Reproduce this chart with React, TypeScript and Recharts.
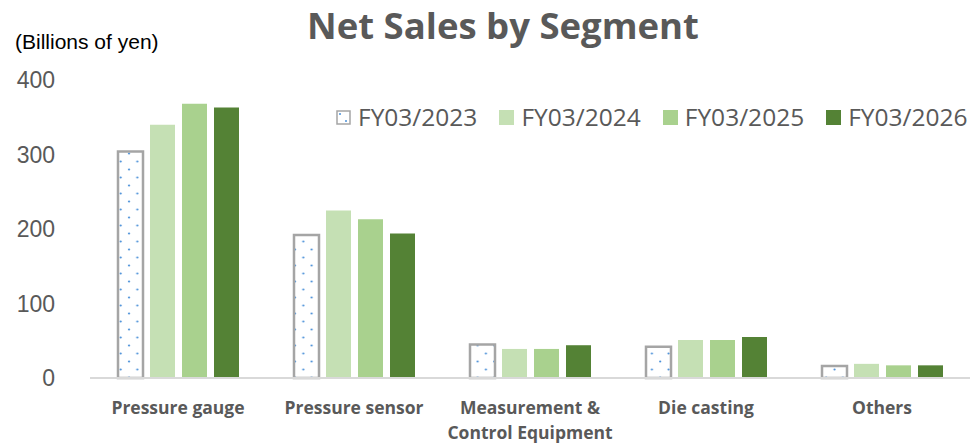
import { BarChart, Bar, XAxis, YAxis } from "recharts";

const segments = [
  "Pressure gauge",
  "Pressure sensor",
  "Measurement &\nControl Equipment",
  "Die casting",
  "Others",
];
const fy2023 = [304, 192, 45, 42, 16];
const fy2024 = [340, 225, 39, 51, 19];
const fy2025 = [368, 213, 39, 51, 17];
const fy2026 = [363, 194, 44, 55, 17];
const yTicks = [0, 100, 200, 300, 400];

const seriesNames = ["FY03/2023", "FY03/2024", "FY03/2025", "FY03/2026"];
const seriesColors = ["url(#dots)", "#c5e0b4", "#a9d18e", "#548235"];

const chartData = segments.map((name, i) => ({
  name,
  fy2023: fy2023[i],
  fy2024: fy2024[i],
  fy2025: fy2025[i],
  fy2026: fy2026[i],
}));

const grey = "#595959";
const calibriLike = "'Open Sans', sans-serif";

const SegmentTick = ({ x, y, payload }: any) => {
  const lines = String(payload.value).split("\n");
  return (
    <text
      x={x}
      y={y}
      textAnchor="middle"
      fill={grey}
      fontFamily={calibriLike}
      fontWeight={700}
      fontSize={17.5}
    >
      {lines.map((line, i) => (
        <tspan key={i} x={x} dy={i === 0 ? 28 : 25}>
          {line}
        </tspan>
      ))}
    </text>
  );
};

const LegendBox = () => (
  <div style={{ display: "flex", fontFamily: calibriLike, fontSize: 24.5, color: grey }}>
    {seriesNames.map((name, i) => (
      <div key={name} style={{ display: "flex", alignItems: "center", marginRight: i < 3 ? 22 : 0 }}>
        <svg width={15} height={15} style={{ marginRight: 7 }}>
          {i === 0 ? (
            <>
              <rect x={1} y={1} width={13} height={13} fill="#fff" stroke="#a5a5a5" strokeWidth={1.5} />
              <circle cx={4} cy={4} r={1} fill="#4a90d9" />
              <circle cx={10} cy={11} r={1} fill="#4a90d9" />
            </>
          ) : (
            <rect x={0} y={0} width={15} height={15} fill={seriesColors[i]} />
          )}
        </svg>
        <span style={{ lineHeight: "24px" }}>{name}</span>
      </div>
    ))}
  </div>
);

export default function App() {
  return (
    <div style={{ position: "absolute", left: 0, top: 0, width: 973, height: 443, background: "#fff" }}>
      <div
        style={{
          position: "absolute",
          left: 0,
          width: 1006,
          top: 0,
          textAlign: "center",
          fontFamily: calibriLike,
          fontWeight: 700,
          fontSize: 36.5,
          color: grey,
        }}
      >
        Net Sales by Segment
      </div>
      <div
        style={{
          position: "absolute",
          left: 15,
          top: 30,
          fontFamily: "'Liberation Sans', Arial, sans-serif",
          fontSize: 21,
          color: "#000",
        }}
      >
        (Billions of yen)
      </div>
      <div style={{ position: "absolute", left: 336, top: 105, zIndex: 1 }}>
        <LegendBox />
      </div>
      <BarChart
        width={973}
        height={443}
        data={chartData}
        margin={{ top: 80, right: 3, bottom: 35, left: 15 }}
        barSize={25}
        barGap={7}
        style={{ overflow: "visible" }}
      >
        <defs>
          <pattern id="dots" patternUnits="userSpaceOnUse" width={16.6} height={16}>
            <rect width={16.6} height={16} fill="#fff" />
            <circle cx={4.5} cy={1.5} r={1.1} fill="#4a90d9" />
            <circle cx={12.8} cy={9.5} r={1.1} fill="#4a90d9" />
          </pattern>
        </defs>
        <XAxis
          dataKey="name"
          height={30}
          axisLine={{ stroke: "#d9d9d9", strokeWidth: 2 }}
          tickLine={false}
          interval={0}
          tick={<SegmentTick />}
        />
        <YAxis
          width={75}
          domain={[0, 400]}
          ticks={yTicks}
          axisLine={false}
          tickLine={false}
          tickSize={0}
          tickMargin={35}
          tick={{ fill: grey, fontSize: 23, fontFamily: "'Liberation Sans', Arial, sans-serif" }}
        />
        <Bar dataKey="fy2023" name={seriesNames[0]} fill={seriesColors[0]} stroke="#a5a5a5" strokeWidth={2.5} isAnimationActive={false} />
        <Bar dataKey="fy2024" name={seriesNames[1]} fill={seriesColors[1]} isAnimationActive={false} />
        <Bar dataKey="fy2025" name={seriesNames[2]} fill={seriesColors[2]} isAnimationActive={false} />
        <Bar dataKey="fy2026" name={seriesNames[3]} fill={seriesColors[3]} isAnimationActive={false} />
      </BarChart>
    </div>
  );
}
